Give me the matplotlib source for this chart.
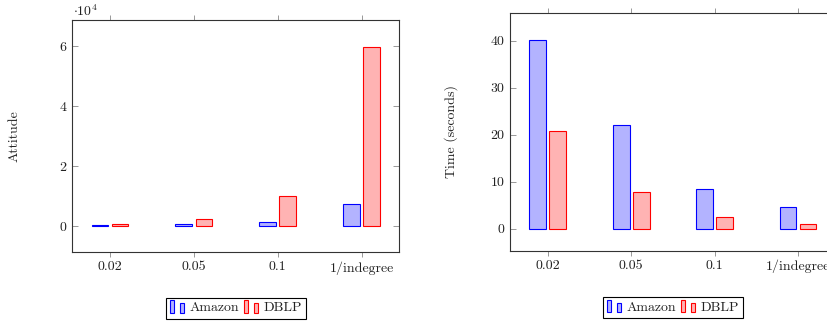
import matplotlib
matplotlib.use("Agg")
import matplotlib.pyplot as plt
import numpy as np
from matplotlib.patches import Rectangle
from matplotlib.legend_handler import HandlerBase

plt.rcParams['font.family'] = ['cmr10', 'DejaVu Serif']
plt.rcParams['mathtext.fontset'] = 'cm'
plt.rcParams['axes.unicode_minus'] = False
plt.rcParams['axes.formatter.use_mathtext'] = True

# data
categories = ["0.02", "0.05", "0.1", "1/indegree"]
series = ["Amazon", "DBLP"]
amazon_attitude = [300, 700, 1300, 7400]
dblp_attitude = [600, 2300, 10000, 59800]
amazon_time = [40.1, 22.1, 8.4, 4.7]
dblp_time = [20.7, 7.9, 2.5, 1.1]

BLUE_FILL = "#b3b3ff"
RED_FILL = "#ffb3b3"
TXT = "#222222"
FS = 10


class BarHandler(HandlerBase):
    # pgfplots style legend glyph: two small bars
    def create_artists(self, legend, orig_handle, xdescent, ydescent,
                       width, height, fontsize, trans):
        fc = orig_handle.get_facecolor()
        ec = orig_handle.get_edgecolor()
        w = width * 0.28
        h = height * 1.3
        y0 = -ydescent - height * 0.15
        r1 = Rectangle((-xdescent, y0), w, h, fc=fc, ec=ec,
                       lw=0.8, transform=trans)
        r2 = Rectangle((-xdescent + width * 0.72, y0), w, h * 0.75,
                       fc=fc, ec=ec, lw=0.8, transform=trans)
        return [r1, r2]


def draw_panel(ax, a_vals, d_vals, ylim, yticks, ylabel, label_x):
    x = np.arange(len(categories))
    ba = ax.bar(x - 0.12, a_vals, 0.2, color=BLUE_FILL, edgecolor="blue",
                linewidth=0.8, label=series[0])
    bd = ax.bar(x + 0.12, d_vals, 0.2, color=RED_FILL, edgecolor="red",
                linewidth=0.8, label=series[1])
    ax.set_xlim(-0.45, 3.45)
    ax.set_ylim(*ylim)
    ax.set_xticks(x)
    ax.set_xticklabels(categories)
    ax.set_yticks(yticks)
    ax.set_yticklabels([str(t) for t in yticks])
    ax.tick_params(axis='x', direction='out', top=True, length=3.3,
                   width=0.6, color="#888888", labelsize=FS,
                   labelcolor=TXT, pad=3)
    ax.tick_params(axis='y', direction='in', right=True, length=4.3,
                   width=0.6, color="#888888", labelsize=FS,
                   labelcolor=TXT, pad=4)
    for s in ax.spines.values():
        s.set_color("#333333")
        s.set_linewidth(0.8)
    ax.set_ylabel(ylabel, fontsize=FS, color=TXT)
    ax.yaxis.set_label_coords(label_x, 0.5)
    leg = ax.legend(handles=[ba.patches[0], bd.patches[0]], labels=series,
                    ncol=2, loc='upper center', bbox_to_anchor=(0.5, -0.195),
                    handler_map={Rectangle: BarHandler()},
                    handlelength=1.0, handleheight=0.7, handletextpad=0.4,
                    columnspacing=0.35, borderpad=0.3, fontsize=FS,
                    frameon=True, fancybox=False, framealpha=1,
                    edgecolor="black", borderaxespad=0)
    leg.get_frame().set_linewidth(0.8)
    for t in leg.get_texts():
        t.set_color(TXT)
    return ax


fig = plt.figure(figsize=(8.27, 3.25), dpi=100)

ax1 = fig.add_axes([72.3 / 827, 1 - 252.3 / 325, 327 / 827, 232.3 / 325])
draw_panel(ax1, np.array(amazon_attitude) / 1e4, np.array(dblp_attitude) / 1e4,
           (-0.87, 6.88), [0, 2, 4, 6], "Attitude", -0.158)
fig.text(73 / 827, 1 - 16 / 325, r"$\cdot 10^4$", fontsize=FS, color=TXT,
         ha='left', va='baseline')

ax2 = fig.add_axes([510.3 / 827, 1 - 250.7 / 325, 325.2 / 827, 237.4 / 325])
draw_panel(ax2, amazon_time, dblp_time, (-4.68, 45.8), [0, 10, 20, 30, 40],
           "Time (seconds)", -0.16)

fig.savefig("out.png", dpi=100)
